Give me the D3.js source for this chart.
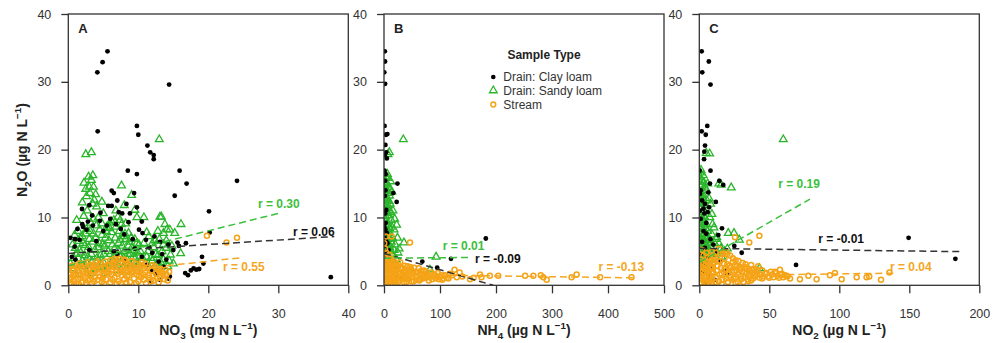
<!DOCTYPE html>
<html><head><meta charset="utf-8">
<script src="https://cdn.jsdelivr.net/npm/d3@7"></script>
<style>body{margin:0;background:#fff} svg{display:block;font-family:"Liberation Sans",Arial,sans-serif}</style>
</head><body><svg id="c" width="995" height="343"></svg>
<script>
// ---------------- DATA ----------------
const seriesNames = ["Drain: Clay loam", "Drain: Sandy loam", "Stream"];
const yTicks = [0, 10, 20, 30, 40];
const xTicksA = [0, 10, 20, 30, 40];
const xTicksB = [0, 100, 200, 300, 400, 500];
const xTicksC = [0, 50, 100, 150, 200];

// Panel A: NO3 (mg N/L) vs N2O (ug N/L)
const clayA = [[4.15,31.4],[4.9,32.9],[5.6,34.5],[4.2,22.7],[14.4,29.6],[9.8,23.5],[10.0,22.2],[11.3,20.6],[11.7,19.6],[12.2,19.2],[12.2,18.6],[8.5,16.9],[9.8,16.4],[15.9,16.9],[16.9,15.0],[15.2,13.2],[24.1,15.4],[20.1,10.9],[20.2,7.8],[37.5,1.2],
[6.2,13.95],[6.5,13.6],[9.4,13.6],[1.96,11.25],[5.7,11.7],[6.2,11.7],[3.4,10.3],[7.2,10.8],[7.7,10.6],[8.8,10.6],[1.3,8.3],[2.1,8.6],[2.6,8.2],[0.96,6.8],[1.6,6.7],[0.9,5.7],[10.1,8.2],[10.6,7.7],[11.1,6.7],[13.1,6.4],[15.6,6.3],[16.8,6.2],[15.8,5.8],[15.0,5.2],[19.1,4.2],[19.3,3.2],[17.9,2.5],[18.3,2.3],[17.1,1.5],[16.7,1.8],[18.7,2.4],[17.5,2.2],[14.5,1.3],[14.3,1.0],[11.7,0.5],[13.1,0.8],[12.9,3.5],[13.6,2.7],
[0.5,4.2],[1.0,3.8],[0.3,7.0],[2.0,9.0],[2.8,9.4],[3.5,8.8],[4.5,9.5],[5.0,8.0],[5.5,8.8],[6.0,9.8],[6.8,9.0],[7.5,8.3],[8.0,7.5],[8.6,9.3],[9.2,6.8],[9.5,5.4],[4.0,6.5],[3.0,5.2],[6.5,5.0],[7.0,4.5],[8.2,3.6],[10.5,4.2],[11.2,3.0],[12.0,2.2],[12.5,1.6],[11.5,5.6],[12.3,7.2],[13.4,4.6],[14.0,3.8],[14.3,6.0],[8.3,12.0],[7.0,12.5],[3.0,11.8],[4.6,10.7],[10.5,9.4],[9.8,11.5],[12.0,4.8]];
const sandyA = [[2.5,19.3],[3.3,19.6],[13.0,21.5],[2.24,15.1],[3.3,15.5],[3.6,14.5],[3.0,14.5],[3.1,13.6],[3.7,12.6],[4.05,11.6],[2.6,13.1],[2.9,16.0],[3.5,16.2],[7.6,14.7],[9.05,13.3],[8.0,11.8],[9.5,11.1],[9.8,10.0],[10.8,10.0],[13.1,10.1],[13.3,10.1],[6.5,9.6],[7.1,10.1],[7.6,9.0],[8.2,9.1],[5.5,8.6],[4.8,9.1],[16.05,4.7],[15.2,7.7],[14.5,8.2],[14.1,8.2],[13.6,7.7],[11.2,7.8],[8.6,7.7],[7.9,7.2],[7.4,6.7],[16.1,9.0],[13.6,6.0],[14.0,5.5],[14.6,4.5],[15.0,3.2],[14.2,2.8],[13.2,3.4],[12.5,4.6],[12.0,6.2],[11.5,7.2],[12.8,8.0],[13.8,9.0],
[0.5,2.5],[0.8,4.0],[1.0,5.5],[1.2,3.2],[1.5,6.5],[1.8,4.8],[2.0,7.2],[2.2,2.8],[2.4,5.9],[2.6,8.3],[2.8,4.2],[3.0,6.8],[3.2,9.2],[3.4,3.5],[3.6,7.6],[3.8,5.2],[4.0,8.8],[4.2,2.6],[4.4,6.2],[4.6,4.4],[4.8,7.4],[5.0,3.4],[5.2,5.8],[5.4,8.0],[5.6,2.8],[5.8,6.6],[6.0,4.6],[6.2,7.8],[6.4,3.6],[6.6,5.4],[6.8,8.6],[7.0,3.0],[7.2,6.2],[7.4,4.2],[7.6,7.2],[7.8,2.6],[8.0,5.0],[8.2,6.8],[8.4,3.8],[8.6,5.8],[8.8,4.6],[9.0,7.0],[9.2,3.2],[9.4,5.2],[9.6,4.0],[9.8,6.2],[10.0,3.0],[10.3,5.0],[10.6,4.0],[11.0,3.2],[11.4,5.0],[11.8,4.0],[12.2,5.6],[12.6,3.2],[13.0,6.8],[13.4,5.0],[2.0,3.6],[2.9,2.3],[1.4,8.0],[4.3,10.0],[5.9,9.2],[3.5,12.0],[2.7,11.0],[4.8,12.3],[6.8,11.0],[1.0,1.6],[3.3,1.8],[5.3,1.8],[0.3,3.2],
[0.6,6.0],[0.9,7.4],[1.1,4.6],[1.3,2.2],[1.6,5.2],[1.7,7.0],[1.9,3.0],[2.1,6.2],[2.3,4.4],[2.5,7.6],[2.7,3.2],[2.9,5.6],[3.1,8.0],[3.3,4.6],[3.5,6.4],[3.7,2.4],[3.9,7.0],[4.1,4.0],[4.3,5.6],[4.5,8.2],[4.7,3.0],[4.9,6.0],[5.1,4.6],[5.3,7.0],[5.5,2.4],[5.7,5.0],[5.9,8.4],[6.1,3.2],[6.3,6.0],[6.5,4.2],[6.7,7.0],[6.9,2.2],[7.1,5.2],[7.3,8.0],[7.5,3.4],[7.7,5.8],[7.9,4.0],[8.1,7.6],[8.3,2.2],[8.5,4.6],[8.7,6.4],[8.9,3.0],[9.1,5.6],[9.3,4.2],[9.5,6.8],[9.7,2.6],[9.9,4.8],[10.1,6.0],[10.5,3.4],[10.8,6.2],[11.2,4.2],[11.6,2.6],[12.0,3.6],[12.4,6.6],[12.8,4.4],[13.2,2.6],[13.6,3.8],[14.0,6.6],[14.4,3.6],[14.8,5.8],[1.2,9.6],[2.2,10.2],[3.6,9.8],[5.0,10.6],[6.2,9.4],[7.4,9.6],[2.0,12.2],[3.9,13.4],[2.5,14.2]];
const streamA = [[0.2,0.3],[0.4,1.2],[0.6,2.2],[0.8,0.6],[1.0,1.8],[1.2,2.6],[1.4,0.9],[1.6,1.5],[1.8,2.9],[2.0,0.4],[2.2,2.0],[2.4,1.1],[2.6,2.6],[2.8,0.7],[3.0,1.6],[3.2,3.0],[3.4,0.3],[3.6,2.2],[3.8,1.2],[4.0,2.8],[4.2,0.8],[4.4,1.9],[4.6,3.2],[4.8,0.5],[5.0,1.4],[5.2,2.5],[5.4,0.9],[5.6,3.0],[5.8,1.8],[6.0,0.4],[6.2,2.3],[6.4,3.4],[6.6,1.1],[6.8,2.0],[7.0,3.7],[7.2,0.6],[7.4,2.7],[7.6,1.5],[7.8,3.3],[8.0,0.9],[8.2,2.2],[8.4,1.3],[8.6,3.0],[8.8,0.5],[9.0,1.9],[9.2,2.8],[9.4,1.0],[9.6,3.2],[9.8,1.6],[10.0,0.6],[10.2,2.4],[10.4,1.2],[10.6,2.9],[10.8,0.8],[11.0,1.9],[11.3,2.6],[11.6,1.1],[11.9,2.2],[12.2,0.7],[12.5,1.7],[12.8,2.4],[13.1,1.2],[13.4,1.9],[13.7,0.9],[14.0,1.6],[14.4,2.0],[0.3,1.6],[0.9,2.9],[1.5,0.2],[2.3,3.2],[3.1,0.9],[3.9,3.4],[4.5,1.3],[5.3,3.5],[6.1,1.6],[6.9,0.2],[7.3,3.9],[8.1,3.6],[8.9,2.4],[9.7,0.3],[10.5,3.4],[11.1,0.3],[12.0,3.0],[12.9,0.4],[2.7,1.9],[4.1,2.3],[5.7,2.1],[6.5,2.7],[7.9,1.9],[9.3,2.1],[0.1,2.4],[0.5,0.2],[13.3,2.3],[19.8,7.3],[22.6,6.3],[24.1,7.0],
[0.3,0.8],[0.7,1.5],[1.1,0.3],[1.3,2.1],[1.7,1.1],[1.9,2.3],[2.1,1.4],[2.5,0.3],[2.9,2.4],[3.3,1.4],[3.5,2.7],[3.7,0.6],[4.3,3.0],[4.7,2.3],[4.9,1.0],[5.1,0.2],[5.5,1.9],[5.9,2.9],[6.3,0.8],[6.7,3.1],[7.1,1.7],[7.5,0.3],[7.7,2.3],[8.3,0.4],[8.5,2.7],[8.7,1.5],[9.1,3.6],[9.5,2.5],[9.9,2.0],[10.1,1.4],[10.3,3.0],[10.7,1.6],[10.9,2.5],[11.4,1.5],[11.8,0.6],[12.1,1.4],[12.4,2.8],[12.7,1.0],[13.0,2.0],[13.6,1.4],[13.9,2.3],[14.2,0.7],[0.15,1.0],[0.5,2.9],[1.6,3.2],[2.8,3.4],[4.0,3.6],[6.0,3.7],[8.0,3.8],[9.0,3.5],[11.0,3.2],[6.6,3.9]];

// Panel B: NH4 (ug N/L)
const clayB = [[1.5,34.5],[1.8,33.0],[0.5,31.4],[2.0,29.7],[1.0,23.5],[6.0,22.3],[3.5,22.2],[2.5,20.7],[4.0,19.6],[1.5,19.2],[5.0,18.7],[1.0,16.9],[3.0,16.4],[24,15.0],[2.0,15.4],[16.7,13.6],[2.5,14.0],[22.6,12.3],[1.5,13.2],[4,11.1],[2,10.6],[1,10.9],[3,9.2],[0.5,8.6],[2.5,8.2],[5,7.7],[1,7.0],[3.5,6.6],[6,6.2],[2,5.8],[8,5.2],[1,4.7],[4,4.2],[11,3.8],[2,3.3],[15,3.0],[7,2.5],[20,2.4],[3,1.8],[25,1.5],[12,1.3],[5,0.8],[30,1.0],[18,0.6],[181.8,6.9],[119.6,3.9],[95,2.6],[68.4,3.5]];
const sandyB = [[34.5,21.5],[9.5,19.6],[7,19.3],[22.6,8.9],[35.7,6.3],[93,4.2],[82,2.3],[1,15.5],[3,16.0],[5,15.1],[8,14.5],[12,15.3],[2,14.0],[6,13.6],[10,13.2],[14,13.8],[4,12.6],[7,11.8],[11,12.0],[2,11.6],[5,10.8],[9,10.3],[1,9.8],[3,9.4],[6,9.0],[13,9.6],[18,8.2],[2,8.4],[4,7.8],[8,8.0],[11,7.4],[15,7.0],[1,6.8],[5,6.5],[9,6.1],[20,6.0],[3,5.7],[7,5.3],[12,5.0],[2,4.6],[6,4.3],[10,3.9],[25,4.8],[1,3.6],[4,3.2],[8,2.9],[16,3.4],[3,2.4],[1,2.0],[14,8.6],[18,5.2],[22,3.8],[6,16.4],[3,12.0],[1,12.8],[9,11.0],[0.5,5.0],
[0.5,14.5],[1.5,13.5],[2.5,15.0],[4,14.2],[7,15.8],[9,12.4],[0.5,11.0],[2.5,10.2],[4,9.4],[6.5,10.6],[8,9.0],[10,8.4],[12,10.8],[0.5,8.0],[2,7.0],[3.5,6.2],[6,7.4],[7.5,6.8],[10,5.6],[13,6.4],[15,4.6],[0.5,4.2],[2.5,3.0],[5,2.2],[7,3.6],[11,2.6],[13,2.0],[17,2.4],[20,3.0],[4,5.2],[1.5,5.6],[6.5,12.4],[3.5,14.8],[11,14.2],[16,11.0],[19,9.8],[24,7.0],[27,5.4]];
const streamB = [[3.6,7.2],[13.7,7.2],[46.4,6.3],[126,2.3],[135,1.9],[153.6,0.9],[171.4,1.6],[174,1.2],[189,1.4],[204,1.4],[252,1.4],[266.7,1.4],[280,1.5],[284.5,1.2],[290.5,0.8],[335,1.2],[344,1.6],[386,1.2],[442,1.2],
[1,0.4],[2,1.6],[3,2.8],[4,0.9],[5,2.0],[6,3.3],[7,1.2],[8,2.5],[9,0.5],[10,1.8],[11,3.0],[12,1.0],[13,2.2],[14,0.3],[15,1.5],[16,2.7],[17,0.8],[18,3.5],[19,1.9],[20,0.6],[22,2.4],[24,1.3],[26,3.0],[28,0.7],[30,1.9],[32,2.6],[34,1.1],[36,0.4],[38,2.1],[40,1.5],[42,2.8],[44,0.9],[46,1.8],[48,2.4],[50,1.2],[53,0.6],[56,2.0],[59,1.4],[62,2.5],[65,0.9],[68,1.7],[71,2.2],[74,1.1],[77,1.6],[80,0.7],[84,1.9],[88,1.3],[92,1.0],[96,1.8],[100,1.2],[104,0.8],[108,1.5],[112,1.1],[118,1.7],[1,2.4],[2,3.6],[3,0.2],[5,4.2],[7,3.0],[9,2.2],[4,4.8],[2,5.4],[6,0.8],[12,3.9],[15,3.2],[21,3.2],[25,2.0],[29,2.6],[33,1.6],[37,1.3],[45,2.2],[52,1.9],[58,0.8],[64,1.6],[70,1.2],[1,1.2],[8,1.4],[17,2.0],[23,0.9],[40,0.5],[140,1.3],[160,1.1],[0.5,6.2],[1.5,4.0],[10,4.5],
[0.5,1.8],[1.5,0.8],[2.5,2.2],[3.5,3.2],[4.5,1.4],[5.5,2.6],[6.5,0.4],[7.5,2.0],[8.5,3.8],[9.5,1.2],[10.5,2.8],[11.5,0.6],[12.5,1.8],[13.5,3.5],[14.5,2.4],[16.5,1.2],[18.5,2.2],[19.5,0.3],[21,1.5],[23,2.8],[25,0.5],[27,1.7],[29,3.4],[31,1.1],[33,2.4],[35,1.9],[37,2.9],[39,0.9],[41,1.0],[43,2.0],[45,1.3],[47,2.7],[49,0.6],[51,1.7],[54,2.6],[57,1.2],[60,1.8],[63,0.7],[66,2.1],[69,1.0],[72,1.6],[75,2.0],[78,1.2],[82,1.5],[86,0.9],[90,1.6],[94,1.3],[98,0.9],[102,1.5],[106,1.0],[110,1.4],[115,1.0],[122,1.5],[130,1.2]];

// Panel C: NO2 (ug N/L)
const clayC = [[1.7,34.5],[2.1,31.4],[6.8,33.0],[8.0,29.6],[1.7,22.7],[5.7,23.5],[4.6,22.2],[4.1,20.6],[3.6,19.7],[3.4,18.6],[8.0,16.9],[7.6,15.0],[14.3,15.4],[17.1,14.8],[6.4,13.7],[11.8,12.3],[0.2,16.9],[3.0,11.3],[3.6,10.6],[5.0,9.2],[16.2,8.4],[13.6,7.4],[25,5.8],[30.3,4.8],[69.1,3.0],[149.5,7.0],[182.9,3.9],[1,14.0],[2,12.5],[0.5,13.5],[4,12.0],[6,10.8],[1,9.8],[3,8.0],[5,7.6],[8,6.8],[2,6.4],[10,6.0],[4,5.5],[12,5.0],[1,4.6],[6,4.0],[15,3.6],[3,3.0],[9,2.6],[18,2.2],[2,1.8],[7,1.2],[20,1.6],[5,0.5],[11,0.8],[0.5,11.0],[7,11.5]];
const sandyC = [[60,21.5],[5.0,19.5],[7.4,19.4],[15.6,14.8],[22.8,14.4],[14,15],[20.7,7.7],[24.8,7.7],[28.6,6.7],[42.9,2.5],[12.4,7.1],[15.5,5.45],[0.5,16.0],[1.5,15.5],[0.8,14.6],[2.2,14.0],[1.0,13.2],[3.0,12.8],[0.5,12.0],[2.0,11.5],[3.5,11.0],[1.0,10.4],[4.0,10.0],[2.5,9.6],[0.5,9.0],[5.0,9.0],[1.5,8.6],[3.0,8.2],[6.0,8.0],[0.8,7.6],[2.2,7.2],[4.2,7.0],[7.0,6.6],[1.2,6.4],[3.2,6.0],[5.5,5.8],[8.5,5.6],[0.5,5.4],[2.0,5.0],[4.0,4.8],[6.5,4.6],[10,4.8],[1.0,4.2],[3.0,3.8],[5.0,3.6],[8,3.8],[0.5,3.2],[2.0,2.8],[4.0,2.6],[1.0,2.2],[6,2.4],[9,7.5],[7.5,10.0],[5.5,12.5],[3.8,14.5],[6.0,15.0],[2.8,16.2],[1.2,17.0],[11,6.2],[13,4.6],[18,5.0],[9.5,9.0],[8,12.0],
[0.3,15.2],[0.8,16.6],[1.8,14.8],[0.3,13.8],[1.5,12.6],[2.5,13.4],[0.8,11.4],[1.8,10.8],[3,10.2],[0.3,10.0],[1.2,9.2],[2,8.0],[3.6,9.0],[4.5,8.4],[0.3,7.0],[1.6,6.8],[2.8,6.8],[3.8,6.2],[5.0,6.8],[6.2,7.2],[0.8,5.8],[1.6,4.6],[2.6,4.2],[3.5,5.2],[4.8,5.2],[6,5.4],[7.5,5.0],[0.3,4.0],[1.5,3.4],[2.5,3.4],[3.8,3.2],[5.5,3.0],[7,3.2],[0.8,2.6],[2.8,2.2],[4.5,2.0],[4.6,11.8],[3.2,15.2],[5.2,14.0],[7,12.8],[9,10.5],[10.5,8.5],[12,6.8],[14,6.2],[16,4.2],[20,5.4]];
const streamC = [[25.5,7.1],[35.7,6.3],[42.9,7.3],[71.9,0.9],[77.9,1.4],[83.8,0.9],[93.3,1.5],[96.9,1.8],[101.7,0.9],[112.4,1.2],[119.5,1.2],[121.4,1.3],[129.8,0.8],[135.8,1.9],[64.8,1.0],[62.4,1.4],[57.6,2.3],
[0.5,0.3],[1,1.5],[1.5,2.7],[2,0.8],[2.5,2.0],[3,3.2],[3.5,1.2],[4,2.4],[4.5,0.5],[5,3.6],[5.5,1.8],[6,2.9],[6.5,0.9],[7,2.2],[7.5,3.9],[8,1.4],[8.5,2.7],[9,0.4],[9.5,3.3],[10,1.9],[11,4.2],[12,1.1],[13,2.8],[14,0.6],[15,3.6],[16,1.7],[17,4.6],[18,2.4],[19,1.0],[20,3.1],[21,1.8],[22,2.6],[23,0.8],[24,3.4],[25,2.0],[26,1.2],[27,2.8],[28,1.6],[29,2.3],[30,0.9],[31,3.3],[32,1.9],[33,1.2],[34,2.5],[35,1.5],[36,2.1],[37,0.7],[38,1.8],[39,2.4],[40,1.3],[41,1.9],[42,2.8],[43,1.1],[44,1.6],[45,2.2],[46,1.3],[48,1.8],[50,1.1],[52,1.6],[54,2.0],[56,1.4],[58,1.6],[60,1.2],[3,4.4],[12,4.8],[19,5.0],[22,4.4],[28,3.6],[33,3.1],[37,3.0],[1,3.8],[6,4.1],[9,5.0],[16,0.2],[26,0.3],[2,5.2],[14,5.4],[20,4.6],[24,4.0],[30,2.6],[35,0.6],
[0.3,1.0],[0.8,2.2],[1.3,0.4],[1.8,3.4],[2.3,1.4],[2.8,2.6],[3.3,0.6],[3.8,1.8],[4.3,3.0],[4.8,1.2],[5.3,2.4],[5.8,0.3],[6.3,3.4],[6.8,1.6],[7.3,0.6],[7.8,2.6],[8.3,3.6],[8.8,1.8],[9.3,0.8],[9.8,2.6],[10.5,3.4],[11.5,0.5],[12.5,2.2],[13.5,3.6],[14.5,1.6],[15.5,2.6],[16.5,0.8],[17.5,3.2],[18.5,1.4],[19.5,2.2],[20.5,0.5],[21.5,2.9],[22.5,1.2],[23.5,2.1],[24.5,1.0],[25.5,3.0],[26.5,2.2],[27.5,0.5],[28.5,2.6],[29.5,1.3],[30.5,2.0],[31.5,0.5],[32.5,2.7],[33.5,1.7],[34.5,0.9],[35.5,2.4],[36.5,1.4],[37.5,2.3],[38.5,1.0],[39.5,1.6],[41,2.3],[43,1.6],[45,1.0],[47,1.7],[49,1.3],[51,2.0],[53,1.2],[55,1.8],[57,1.1],[59,1.7],[61,1.5],[63,1.3],[18,4.0],[15,4.6],[10,4.4],[26,3.7],[5,4.8]];

// Regression lines [series, x1, y1, x2, y2]
const fitsA = [["clay",0,4.7,38,7.2],["sandy",0,2.9,30,10.6],["stream",0,1.3,25,4.1]];
const fitsB = [["clay",0,4.7,195,0],["sandy",0,4.0,150,4.1],["stream",0,1.6,450,1.1]];
const fitsC = [["clay",0,5.45,188,4.96],["sandy",0,3.4,79,12.7],["stream",0,1.4,141,1.8]];
// r labels [series, text, x, y]
const rLabelsA = [["sandy","r = 0.30",27.1,11.4],["clay","r = 0.06",32.1,7.3],["stream","r = 0.55",22.1,2.15]];
const rLabelsB = [["sandy","r = 0.01",104.8,5.2],["clay","r = -0.09",162.5,3.25],["stream","r = -0.13",383,2.15]];
const rLabelsC = [["sandy","r = 0.19",56.4,14.3],["clay","r = -0.01",85,6.2],["stream","r = 0.04",136.2,2.15]];

// ---------------- DRAW ----------------
const colors = {clay:"#000000", sandy:"#2bb52b", stream:"#f5a316"};
const lineColors = {clay:"#333333", sandy:"#3cbf3c", stream:"#f5a623"};
const svg = d3.select("#c");
const plotTop = 14, plotBottom = 285.3;

const panels = [
  {letter:"A", x0:68.3, x1:348.3, domain:[0,40], ticks:xTicksA, clay:clayA, sandy:sandyA, stream:streamA, fits:fitsA, labels:rLabelsA,
   title:[["NO",0],["3",-1],[" (mg N L",0],["\u22121",1],[")",0]]},
  {letter:"B", x0:384, x1:664, domain:[0,500], ticks:xTicksB, clay:clayB, sandy:sandyB, stream:streamB, fits:fitsB, labels:rLabelsB,
   title:[["NH",0],["4",-1],[" (\u00b5g N L",0],["\u22121",1],[")",0]]},
  {letter:"C", x0:699.3, x1:979.3, domain:[0,200], ticks:xTicksC, clay:clayC, sandy:sandyC, stream:streamC, fits:fitsC, labels:rLabelsC,
   title:[["NO",0],["2",-1],[" (\u00b5g N L",0],["\u22121",1],[")",0]]}
];

function richText(sel, parts, size) {
  let prev = 0;
  parts.forEach(([t, k]) => {
    const ts = sel.append("tspan").text(t);
    const shift = k === -1 ? 0.3 * size : k === 1 ? -0.4 * size : 0;
    ts.attr("dy", shift - prev);
    if (k !== 0) ts.attr("font-size", size * 0.7);
    prev = shift;
  });
}

const y = d3.scaleLinear().domain([0, 40]).range([plotBottom, plotTop]);
const tri = d3.symbol().type(d3.symbolTriangle).size(26);

panels.forEach(p => {
  const x = d3.scaleLinear().domain(p.domain).range([p.x0, p.x1]);
  const g = svg.append("g");
  const clipId = "clip" + p.letter;
  svg.append("clipPath").attr("id", clipId).append("rect")
    .attr("x", p.x0).attr("y", plotTop).attr("width", p.x1 - p.x0).attr("height", plotBottom - plotTop);
  const plot = g.append("g").attr("clip-path", `url(#${clipId})`);

  plot.append("g").selectAll("path").data(p.sandy).join("path")
    .attr("d", tri).attr("transform", d => `translate(${x(d[0])},${y(d[1])})`)
    .attr("fill", "none").attr("stroke", colors.sandy).attr("stroke-width", 1.3);
  plot.append("g").selectAll("circle").data(p.clay).join("circle")
    .attr("cx", d => x(d[0])).attr("cy", d => y(d[1])).attr("r", 2.4).attr("fill", colors.clay);
  plot.append("g").selectAll("circle").data(p.stream).join("circle")
    .attr("cx", d => x(d[0])).attr("cy", d => y(d[1])).attr("r", 2.5)
    .attr("fill", "none").attr("stroke", colors.stream).attr("stroke-width", 1.5);

  plot.append("g").selectAll("line").data(p.fits).join("line")
    .attr("x1", d => x(d[1])).attr("y1", d => y(d[2])).attr("x2", d => x(d[3])).attr("y2", d => y(d[4]))
    .attr("stroke", d => lineColors[d[0]]).attr("stroke-width", 1.5).attr("stroke-dasharray", "7,4");

  g.append("g").selectAll("text").data(p.labels).join("text")
    .attr("x", d => x(d[2])).attr("y", d => y(d[3]))
    .attr("font-size", 12).attr("font-weight", "bold")
    .attr("fill", d => d[0] === "clay" ? "#111" : lineColors[d[0]]).text(d => d[1]);

  g.append("rect").attr("x", p.x0).attr("y", plotTop).attr("width", p.x1 - p.x0).attr("height", plotBottom - plotTop)
    .attr("fill", "none").attr("stroke", "#333").attr("stroke-width", 1.3);

  const xa = g.append("g").attr("transform", `translate(0,${plotBottom})`)
    .call(d3.axisBottom(x).tickValues(p.ticks).tickSize(8).tickSizeOuter(0).tickPadding(16).tickFormat(d3.format("d")));
  const ya = g.append("g").attr("transform", `translate(${p.x0},0)`)
    .call(d3.axisLeft(y).tickValues(yTicks).tickSize(7).tickSizeOuter(0).tickPadding(10));
  [xa, ya].forEach(a => {
    a.select(".domain").remove();
    a.selectAll("line").attr("stroke", "#333").attr("stroke-width", 1.3);
    a.selectAll("text").attr("font-size", 12.5).attr("fill", "#333").attr("font-family", '"Liberation Sans",Arial,sans-serif');
  });

  g.append("text").attr("x", p.x0 + 10).attr("y", 33).attr("font-size", 13).attr("font-weight", "bold")
    .attr("fill", "#222").text(p.letter);

  const t = g.append("text").attr("x", (p.x0 + p.x1) / 2).attr("y", 335).attr("text-anchor", "middle")
    .attr("font-size", 14).attr("font-weight", "bold").attr("fill", "#222");
  richText(t, p.title, 14);
});

const yt = svg.append("text").attr("transform", "translate(27,150) rotate(-90)").attr("text-anchor", "middle")
  .attr("font-size", 14).attr("font-weight", "bold").attr("fill", "#222");
richText(yt, [["N",0],["2",-1],["O (\u00b5g N L",0],["\u22121",1],[")",0]], 14);

const lg = svg.append("g");
lg.append("text").attr("x", 544).attr("y", 59).attr("text-anchor", "middle").attr("font-size", 12)
  .attr("font-weight", "bold").attr("fill", "#222").text("Sample Type");
const rows = [77, 90.5, 104.5];
seriesNames.forEach((name, i) => {
  const cy = rows[i];
  if (i === 0) lg.append("circle").attr("cx", 493.3).attr("cy", cy).attr("r", 2.3).attr("fill", colors.clay);
  if (i === 1) lg.append("path").attr("d", tri).attr("transform", `translate(493.3,${cy})`)
    .attr("fill", "none").attr("stroke", colors.sandy).attr("stroke-width", 1.3);
  if (i === 2) lg.append("circle").attr("cx", 493.3).attr("cy", cy).attr("r", 2.4)
    .attr("fill", "none").attr("stroke", colors.stream).attr("stroke-width", 1.5);
  lg.append("text").attr("x", 503.3).attr("y", cy + 4.3).attr("font-size", 12).attr("fill", "#333").text(name);
});
</script></body></html>
